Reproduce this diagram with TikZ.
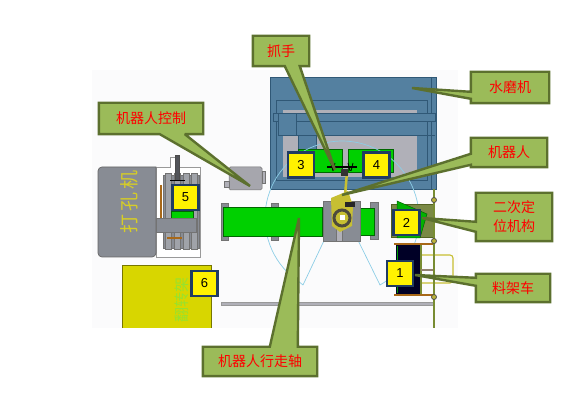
\documentclass[tikz,border=0pt]{standalone}
\usepackage{fontspec}
\usepackage{tikz}
\newfontfamily\cjk{Noto Sans CJK SC}
\setmainfont{Liberation Sans}
\pgfdeclarelayer{front}
\pgfsetlayers{main,front}
\definecolor{panel}{RGB}{251,251,252}
\definecolor{steel}{RGB}{84,128,160}
\definecolor{steeldark}{RGB}{48,88,118}
\definecolor{lightgrey}{RGB}{176,176,184}
\definecolor{midgrey}{RGB}{136,140,148}
\definecolor{lime}{RGB}{0,208,0}
\definecolor{mustard}{RGB}{216,214,0}
\definecolor{calloutfill}{RGB}{155,187,89}
\definecolor{calloutline}{RGB}{92,112,46}
\definecolor{boxline}{RGB}{32,60,98}
\definecolor{rust}{RGB}{168,104,24}
\definecolor{sweep}{RGB}{140,205,230}
\definecolor{oliveline}{RGB}{120,140,50}
\tikzset{
    machine/.style={draw=steeldark, fill=steel, line width=0.7pt},
    part/.style={draw=black!55, fill=midgrey, line width=0.5pt},
    greenpart/.style={draw=black!60!green, fill=lime, line width=0.5pt},
    numbox/.style={draw=boxline, fill=yellow, line width=2.6pt, inner sep=0pt,
        minimum width=26pt, minimum height=25pt, font=\fontsize{13}{13}\selectfont},
    tag/.style={inner sep=0pt, text=red, align=center, font=\cjk\fontsize{14}{19}\selectfont},
    tagshell/.style={draw=calloutline, fill=calloutfill, line width=2.4pt, miter limit=2}
}
\begin{document}
\begin{tikzpicture}[x=1pt, y=-1pt]
    \useasboundingbox (0,0) rectangle (587,411);
    \fill[panel] (92,70) rectangle (458,328);

    % water grinder
    \draw[machine] (270,77) rectangle (436,189);
    \draw[steeldark, line width=0.7pt] (276,100) -- (427,100) -- (427,180) -- (276,180) -- cycle;
    \draw[steeldark, line width=0.7pt] (431,77) -- (431,189);
    \fill[lightgrey] (283,110) rectangle (417,113);
    \fill[lightgrey] (283,135) rectangle (417,177);
    \draw[machine] (298,135) rectangle (316,152);
    \draw[machine] (273,113) rectangle (435,121);
    \draw[machine] (278,113) rectangle (296,135);
    \draw[steeldark, line width=0.7pt] (296,135) -- (435,135);
    \draw[greenpart] (298,149) rectangle (342,172);
    \draw[greenpart] (348,149) rectangle (393,172);

    % reach of the robot
    \draw[sweep, line width=0.7pt] (303,285) -- (287,272)
        plot[domain=135:416.5, samples=70] ({342+77*cos(\x)},{218+77*sin(\x)})
        -- (380,285) -- (352,228);
    \draw[sweep, line width=0.7pt] (303,285) -- (330,228);

    % travel axis
    \draw[part] (221,203) rectangle (228,240);
    \draw[part] (271,203) rectangle (278,240);
    \draw[part] (370,202) rectangle (378,239);
    \draw[greenpart] (223,207) rectangle (322,236);
    \draw[greenpart] (353,208) rectangle (374,235);
    \draw[part] (323,201) rectangle (360,241);
    \draw[part, fill=lightgrey] (336,201) rectangle (342,241);

    % robot
    \fill[yellow!75!black] (331,198) -- (348,191) -- (353,206) -- (352,226) -- (340,232) -- (332,226) -- cycle;
    \draw[yellow!75!black, line width=2.5pt] (345,196) -- (347,172);
    \draw[black, line width=1.2pt] (327,167) -- (357,167);
    \draw[black, line width=0.8pt] (331,163) -- (333,171) (335,163) -- (333,171);
    \draw[black, line width=0.8pt] (348,163) -- (350,171) (353,163) -- (351,171);
    \fill[black!80] (341,169) rectangle (348,176);
    \fill[black!85] (345,202) rectangle (355,207);
    \draw[black!80!yellow, line width=3pt] (342,218) circle (8pt);
    \fill[white] (339.5,215.5) rectangle (344.5,220.5);

    % control cabinet
    \draw[part, fill=lightgrey!80!gray, rounded corners=1.5pt] (229,167) rectangle (262,190);
    \draw[part, fill=lightgrey] (224,181) rectangle (229,187);
    \draw[part, fill=lightgrey] (262,171) rectangle (265,183);

    % drilling machine
    \draw[black!40, fill=white, line width=0.7pt] (156,167) -- (170,167) -- (170,157) -- (179,157)
        -- (179,167) -- (200,167) -- (200,257) -- (156,257) -- cycle;
    \draw[black!60, fill=midgrey, rounded corners=4pt, line width=0.7pt]
        (156,167) -- (98,167) -- (98,257) -- (156,257) [sharp corners] -- cycle;
    \draw[part] (163,175) rectangle (199,248);
    \foreach \t in {168,177,186,194} {
        \draw[part, fill=midgrey!80] (\t-3,173) rectangle (\t+3,249);
    }
    \draw[black!70, fill=midgrey!60!black, line width=0.4pt] (175,155) rectangle (179,180);
    \draw[black, line width=0.8pt] (170,180) -- (185,180);
    \draw[rust, line width=1.2pt] (161,185) -- (161,232);
    \draw[rust, line width=1.2pt] (167,238) -- (182,238);
    \draw[greenpart] (171,211) rectangle (193,218);
    \draw[part] (156,218) rectangle (196,232);
    \node[rotate=90, text=yellow!82!black, font=\cjk\fontsize{19}{19}\selectfont] (drillname) at (129,202) {打\,孔\,机};

    % mustard block
    \fill[mustard] (122,265) rectangle (211,328);
    \draw[black!45!mustard, line width=0.7pt] (122,328) -- (122,265) -- (211,265) -- (211,328);
    \node[rotate=90, text=green!40!cyan!30!mustard, font=\cjk\fontsize{15}{15}\selectfont] (blockname) at (182,300) {翻转架};

    % station 2, rack car and rails
    \draw[draw=oliveline!70!black, fill=oliveline!75!gray] (391,204) rectangle (433,237);
    \draw[greenpart, fill=green!70!black] (397,201) -- (427,214) -- (420,238) -- (397,238) -- cycle;
    \draw[black!40, fill=lightgrey, line width=0.7pt] (221,302.5) rectangle (433,305.5);
    \draw[yellow!75!black, line width=1.1pt, rounded corners=3pt] (420,255) -- (453,255) -- (453,283) -- (420,283);
    \fill[black!85!blue] (396,245) rectangle (420,294);
    \draw[green!60!black, line width=1pt] (397,246) -- (397,293);
    \draw[oliveline, line width=1.5pt] (421,245) -- (421,294);
    \draw[midgrey!70!rust, line width=1.5pt] (421,270) -- (434,270);
    \draw[rust, line width=1.6pt] (394,244) -- (435,244);
    \draw[rust, line width=1.6pt] (394,295) -- (435,295);
    \draw[oliveline, line width=1.6pt] (434,189) -- (434,328);
    \foreach \b in {200,241,297} {
        \draw[black!70, fill=yellow!70!black, line width=0.8pt] (434,\b) circle (2.5pt);
    }

    % numbered boxes
    \foreach \n/\px/\py in {1/400/273.5, 2/406.5/222.5, 3/301/165, 4/376.5/165, 5/185.5/197.5, 6/204.5/283.5} {
        \node[numbox] (num\n) at (\px,\py) {\n};
    }

    \coordinate (gripper) at (335,170);
    \coordinate (cabinet) at (250,186);
    \coordinate (grinder) at (412,88);
    \coordinate (robot) at (342,195);
    \coordinate (station) at (422,218);
    \coordinate (rack) at (415,275);
    \coordinate (axis) at (299,218);

    \begin{pgfonlayer}{front}
        \node[tag, minimum width=56pt, minimum height=30pt] (gripperlabel) at (281,51) {抓手};
        \node[tag, minimum width=104pt, minimum height=31pt] (cabinetlabel) at (151,118.5) {机器人控制};
        \node[tag, minimum width=78pt, minimum height=31pt] (grinderlabel) at (510,87.5) {水磨机};
        \node[tag, minimum width=76pt, minimum height=29pt] (robotlabel) at (509,152.5) {机器人};
        \node[tag, minimum width=76pt, minimum height=48pt] (stationlabel) at (514,217) {二次定\\位机构};
        \node[tag, minimum width=74pt, minimum height=28pt] (racklabel) at (513,288) {料架车};
        \node[tag, minimum width=114pt, minimum height=29pt] (axislabel) at (260,361.5) {机器人行走轴};
    \end{pgfonlayer}

    \draw[tagshell] (gripperlabel.north west) -- (gripperlabel.north east) -- (gripperlabel.south east)
        -- ([xshift=47pt]gripperlabel.south west) -- (gripper) -- ([xshift=32pt]gripperlabel.south west)
        -- (gripperlabel.south west) -- cycle;
    \draw[tagshell] (cabinetlabel.north west) -- (cabinetlabel.north east) -- (cabinetlabel.south east)
        -- ([xshift=86pt]cabinetlabel.south west) -- (cabinet) -- ([xshift=61pt]cabinetlabel.south west)
        -- (cabinetlabel.south west) -- cycle;
    \draw[tagshell] (grinderlabel.north east) -- (grinderlabel.south east) -- (grinderlabel.south west)
        -- ([yshift=-27pt]grinderlabel.north west) -- (grinder) -- ([yshift=-20pt]grinderlabel.north west)
        -- (grinderlabel.north west) -- cycle;
    \draw[tagshell] (robotlabel.north east) -- (robotlabel.south east) -- (robotlabel.south west)
        -- ([yshift=-27pt]robotlabel.north west) -- (robot) -- ([yshift=-16pt]robotlabel.north west)
        -- (robotlabel.north west) -- cycle;
    \draw[tagshell] (stationlabel.north east) -- (stationlabel.south east) -- (stationlabel.south west)
        -- ([yshift=-39pt]stationlabel.north west) -- (station) -- ([yshift=-29pt]stationlabel.north west)
        -- (stationlabel.north west) -- cycle;
    \draw[tagshell] (racklabel.north east) -- (racklabel.south east) -- (racklabel.south west)
        -- ([yshift=-12pt]racklabel.north west) -- (rack) -- ([yshift=-4pt]racklabel.north west)
        -- (racklabel.north west) -- cycle;
    \draw[tagshell] (axislabel.south west) -- (axislabel.south east) -- (axislabel.north east)
        -- ([xshift=95pt]axislabel.north west) -- (axis) -- ([xshift=67pt]axislabel.north west)
        -- (axislabel.north west) -- cycle;
\end{tikzpicture}
\end{document}
